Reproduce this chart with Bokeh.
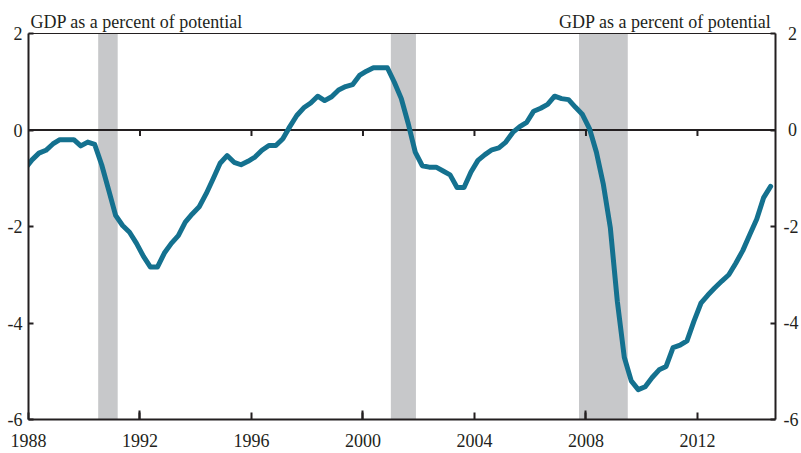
import numpy as np
from bokeh.plotting import figure
from bokeh.models import LinearAxis, Range1d, FixedTicker, Span, BoxAnnotation, Label, ColumnDataSource
from bokeh.embed import file_html
from bokeh.resources import INLINE

# ---- data ----
first_quarter = 1987.75          # 1987Q4 (clipped at left edge)
gdp_gap = [
    -0.80,
    -0.62, -0.48, -0.42, -0.29,   # 1988
    -0.20, -0.20, -0.20, -0.33,   # 1989
    -0.25, -0.30, -0.72, -1.24,   # 1990
    -1.77, -1.98, -2.12, -2.35,   # 1991
    -2.62, -2.84, -2.84, -2.55,   # 1992
    -2.35, -2.19, -1.91, -1.74,   # 1993
    -1.59, -1.32, -1.01, -0.69,   # 1994
    -0.53, -0.67, -0.72, -0.65,   # 1995
    -0.56, -0.42, -0.32, -0.32,   # 1996
    -0.18, 0.07, 0.30, 0.46,      # 1997
    0.56, 0.70, 0.61, 0.69,       # 1998
    0.83, 0.90, 0.94, 1.13,       # 1999
    1.22, 1.29, 1.29, 1.29,       # 2000
    0.99, 0.65, 0.13, -0.46,      # 2001
    -0.74, -0.77, -0.77, -0.85,   # 2002
    -0.93, -1.19, -1.19, -0.87,   # 2003
    -0.63, -0.51, -0.41, -0.37,   # 2004
    -0.25, -0.05, 0.07, 0.16,     # 2005
    0.39, 0.45, 0.53, 0.70,       # 2006
    0.65, 0.63, 0.47, 0.32,       # 2007
    0.03, -0.46, -1.13, -2.03,    # 2008
    -3.55, -4.71, -5.20, -5.38,   # 2009
    -5.32, -5.13, -4.97, -4.90,   # 2010
    -4.51, -4.46, -4.37, -3.96,   # 2011
    -3.59, -3.42, -3.27, -3.13,   # 2012
    -3.00, -2.76, -2.50, -2.17,   # 2013
    -1.85, -1.40, -1.17,          # 2014
]
# plotted at mid-quarter
dates = [first_quarter + 0.125 + 0.25 * i for i in range(len(gdp_gap))]

recession_start = [1990.5, 2001.0, 2007.75]
recession_end = [1991.2, 2001.9, 2009.5]

x_ticks = [1988, 1992, 1996, 2000, 2004, 2008, 2012]
x_long_ticks = [1992, 2000, 2008]
y_ticks = [-6, -4, -2, 0, 2]
y_tick_labels = ["-6", "-4", "-2", "0", "2"]
axis_title = "GDP as a percent of potential"

X_MIN, X_MAX = 1988, 2014.8
Y_MIN, Y_MAX = -6, 2
Y_TOP = 2.684   # frame extends above the plot box to hold the unit labels

INK = "#231f20"
LINE = "#14718f"
SHADE = "#c7c8ca"
FONT = "Liberation Serif"
FS = "18px"

p = figure(width=801, height=453,
           x_range=Range1d(X_MIN, X_MAX), y_range=Range1d(Y_MIN, Y_TOP),
           output_backend="svg", toolbar_location=None,
           min_border_left=28, min_border_right=25,
           min_border_top=0, min_border_bottom=34,
           background_fill_color="white", border_fill_color="white")
p.grid.visible = False
p.outline_line_color = None

for s, e in zip(recession_start, recession_end):
    p.add_layout(BoxAnnotation(left=s, right=e, bottom=Y_MIN, top=Y_MAX,
                               fill_color=SHADE, fill_alpha=1.0,
                               line_color=None, level="underlay"))

# top edge of the plot box
p.add_layout(Span(location=Y_MAX, dimension="width", line_color=INK, line_width=1, level="underlay"))
# zero line
p.add_layout(Span(location=0, dimension="width", line_color=INK, line_width=2, level="underlay"))

# small tick marks hanging under the zero line
p.ray(x=x_ticks[1:], y=[0] * (len(x_ticks) - 1), length=6, angle=-np.pi / 2,
      length_units="screen", line_color=INK, line_width=2)

src = ColumnDataSource(dict(x=dates, y=gdp_gap))
p.line("x", "y", source=src, line_color=LINE, line_width=5, line_join="round", line_cap="round")

def style_axis(ax):
    ax.axis_line_color = INK
    ax.axis_line_width = 2
    ax.major_tick_line_color = INK
    ax.major_tick_line_width = 2
    ax.minor_tick_line_color = INK
    ax.minor_tick_line_width = 2
    ax.major_tick_out = 0
    ax.minor_tick_out = 0
    ax.major_label_text_font = FONT
    ax.major_label_text_font_size = FS
    ax.major_label_text_color = INK

# bottom axis
xa = p.xaxis[0]
xa.ticker = FixedTicker(ticks=x_ticks, minor_ticks=x_long_ticks)
style_axis(xa)
xa.major_tick_in = 7
xa.minor_tick_in = 9
xa.major_label_standoff = 14

# left axis
ya = p.yaxis[0]
ya.ticker = FixedTicker(ticks=y_ticks)
ya.bounds = (Y_MIN, Y_MAX)
style_axis(ya)
ya.major_tick_in = 5
ya.major_label_standoff = 6
ya.major_label_overrides = {t: l for t, l in zip(y_ticks, y_tick_labels)}

# right axis
yr = LinearAxis(ticker=FixedTicker(ticks=y_ticks), bounds=(Y_MIN, Y_MAX))
style_axis(yr)
yr.major_tick_in = 5
yr.major_label_standoff = 8
yr.major_label_overrides = {t: (l if l.startswith("-") else "\u00a0" + l)
                            for t, l in zip(y_ticks, y_tick_labels)}
p.add_layout(yr, "right")

p.add_layout(Label(x=X_MIN, y=Y_MAX, x_offset=2, y_offset=12, text=axis_title,
                   text_font=FONT, text_font_size=FS, text_color=INK,
                   text_align="left", text_baseline="alphabetic"))
p.add_layout(Label(x=X_MAX, y=Y_MAX, x_offset=-4, y_offset=12, text=axis_title,
                   text_font=FONT, text_font_size=FS, text_color=INK,
                   text_align="right", text_baseline="alphabetic"))

open("out.html", "w").write(file_html(p, INLINE))
